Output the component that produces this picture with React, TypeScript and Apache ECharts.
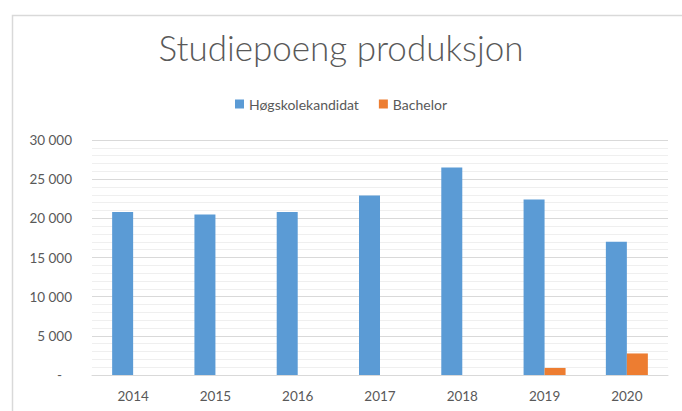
import React, { useEffect, useRef } from "react";
import * as echarts from "echarts";

const categories = ["2014", "2015", "2016", "2017", "2018", "2019", "2020"];
const hogskolekandidat = [20800, 20500, 20800, 22900, 26500, 22400, 17000];
const bachelor = [0, 0, 0, 0, 0, 900, 2750];
const seriesNames = ["Høgskolekandidat", "Bachelor"];
const titleText = "Studiepoeng produksjon";

const fmt = (v: number) =>
  v === 0 ? "{z|-}" : String(v).replace(/\B(?=(\d{3})+(?!\d))/g, " ");

export default function App() {
  const ref = useRef<HTMLDivElement>(null);
  useEffect(() => {
    if (!ref.current) return;
    const chart = echarts.init(ref.current, null, { renderer: "svg" });
    const font = "Lato";
    chart.setOption({
      animation: false,
      backgroundColor: "#ffffff",
      textStyle: { fontFamily: font },
      title: {
        text: titleText,
        left: "center",
        top: 24,
        textStyle: { fontSize: 35, fontWeight: 300, color: "#595959", fontFamily: font },
      },
      legend: {
        top: 92,
        left: "center",
        icon: "rect",
        itemWidth: 9,
        itemHeight: 9,
        itemGap: 20,
        textStyle: { fontSize: 14, color: "#595959", fontFamily: font },
        data: seriesNames,
      },
      graphic: [
        {
          type: "rect",
          left: 10,
          top: 13,
          shape: { width: 700, height: 430 },
          style: { fill: "none", stroke: "#d9d9d9", lineWidth: 1.5 },
          silent: true,
        },
      ],
      grid: { left: 92, right: 14, top: 140, bottom: 36 },
      xAxis: {
        type: "category",
        data: categories,
        axisLine: { lineStyle: { color: "#d9d9d9" } },
        axisTick: { show: false },
        axisLabel: { color: "#595959", fontSize: 13.5, margin: 14, fontFamily: font },
      },
      yAxis: {
        type: "value",
        min: 0,
        max: 30000,
        interval: 5000,
        axisLine: { show: false },
        axisTick: { show: false },
        axisLabel: {
          color: "#595959",
          fontSize: 13.5,
          margin: 20,
          fontFamily: font,
          formatter: fmt,
          rich: { z: { padding: [0, 10, 0, 0], color: "#595959", fontSize: 13.5 } },
        },
        splitLine: { lineStyle: { color: "#d9d9d9" } },
        minorTick: { show: false, splitNumber: 5 },
        minorSplitLine: { show: true, lineStyle: { color: "#efefef" } },
      },
      series: [
        {
          name: seriesNames[0],
          type: "bar",
          data: hogskolekandidat,
          barWidth: 21,
          barGap: "0%",
          itemStyle: { color: "#5B9BD5" },
        },
        {
          name: seriesNames[1],
          type: "bar",
          data: bachelor,
          barWidth: 21,
          barGap: "0%",
          itemStyle: { color: "#ED7D31" },
        },
      ],
    });
    return () => chart.dispose();
  }, []);
  return (
    <div
      ref={ref}
      style={{ position: "fixed", left: 0, top: 0, width: 682, height: 411 }}
    />
  );
}
